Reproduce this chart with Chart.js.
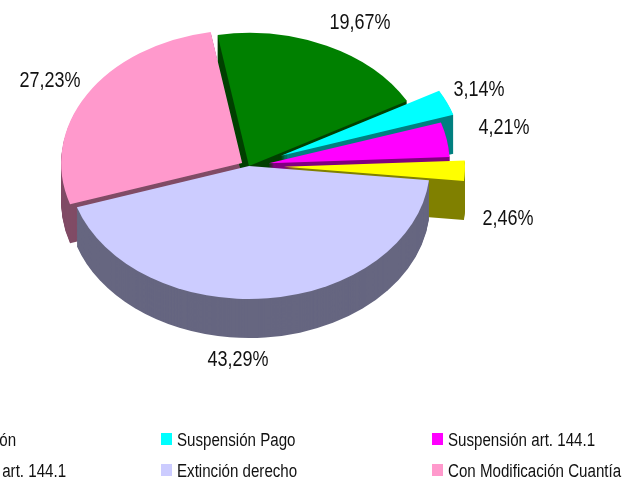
<!DOCTYPE html>
<html lang="es">
  <head>
    <meta charset="utf-8">
    <title>Tipos de resolución</title>
    <script src="https://cdn.jsdelivr.net/npm/chart.js@4"></script>
    <style>
      html, body { margin: 0; padding: 0; background: #fff; overflow: hidden; }
      #wrap { position: relative; width: 622px; height: 478px; overflow: hidden; }
      #pieGraph { position: absolute; left: 0; top: 0; }
      /* no narrow font here, so squeeze Liberation Sans instead */
      .key { position: absolute; font: 18px "Liberation Sans", sans-serif; color: #111; white-space: nowrap; line-height: 20px; transform: scaleX(0.84); }
      .swatch { position: absolute; width: 11px; height: 12px; }
    </style>
  </head>
  <body>
    <div id="wrap">
      <canvas id="pieGraph" width="622" height="478"></canvas>
    </div>
  <script>
  var categories = ["Sin Modificación", "Suspensión Pago", "Suspensión art. 144.1", "Extinción art. 144.1", "Extinción derecho", "Con Modificación Cuantía"];
  var values = [19.67, 3.14, 4.21, 2.46, 43.29, 27.23];
  var topColors = ["#008000", "#00ffff", "#ff00ff", "#ffff00", "#ccccff", "#ff99cc"];
  var sideColors = ["#004000", "#008080", "#800080", "#808000", "#666680", "#804c66"];
  // how far each slice is pulled out of the pie
  var explode = [0, 35, 20, 35, 0, 8];

  var squash = 0.735;
  var depth = 39;
  // label centres, same order as values
  var labelX = [360, 479, 504, 508, 238, 50];
  var labelY = [23, 90, 128, 219, 360, 81];

  var pie3d = {
    id: "pie3d",
    beforeDatasetsDraw: function(chart){
      var ctx = chart.ctx;
      var arcs = chart.getDatasetMeta(0).data;
      var cx = arcs[0].x, cy = arcs[0].y;
      // back slices first so the lavender one ends up in front
      var order = [5, 0, 1, 2, 3, 4];

      ctx.save();
      ctx.translate(cx, cy);
      ctx.scale(1, squash);
      ctx.translate(-cx, -cy);

      // side walls
      order.forEach(function(i){
        var a = arcs[i];
        var mid = (a.startAngle + a.endAngle) / 2;
        var ox = Math.cos(mid) * explode[i];
        var oy = Math.sin(mid) * explode[i];
        ctx.fillStyle = sideColors[i];
        for(var d = depth; d > 0; d--){
          var y = a.y + oy + d / squash;
          ctx.beginPath();
          ctx.moveTo(a.x + ox, y);
          ctx.arc(a.x + ox, y, a.outerRadius, a.startAngle, a.endAngle);
          ctx.closePath();
          ctx.fill();
        }
      });

      // top faces, the library's own arcs
      order.forEach(function(i){
        var a = arcs[i];
        var mid = (a.startAngle + a.endAngle) / 2;
        ctx.save();
        ctx.translate(Math.cos(mid) * explode[i], Math.sin(mid) * explode[i]);
        a.draw(ctx);
        ctx.restore();
      });
      ctx.restore();

      // percent labels
      ctx.fillStyle = "#111";
      ctx.font = '22.5px "Liberation Sans", sans-serif';
      ctx.textAlign = "center";
      ctx.textBaseline = "middle";
      values.forEach(function(v, i){
        ctx.save();
        ctx.translate(labelX[i], labelY[i]);
        ctx.scale(0.8, 1);
        ctx.fillText(v.toFixed(2).replace(".", ",") + "%", 0, 0);
        ctx.restore();
      });
      return false;
    }
  };

  new Chart(document.getElementById("pieGraph"), {
    type: "pie",
    data: {
      labels: categories,
      datasets: [{
        data: values,
        backgroundColor: topColors,
        borderWidth: 0,
        radius: 181,
        clip: false
      }]
    },
    options: {
      responsive: false,
      animation: false,
      rotation: -10,
      layout: { padding: { left: 0, top: 0, right: 124, bottom: 146 } },
      plugins: { legend: { display: false }, tooltip: { enabled: false } }
    },
    plugins: [pie3d]
  });

  // legend, three columns running off the left edge like the original
  var wrap = document.getElementById("wrap");
  var colX = [-110, 161, 432];
  var rowY = [433, 464];
  categories.forEach(function(name, i){
    var col = i % 3, row = Math.floor(i / 3);
    var sw = document.createElement("div");
    sw.className = "swatch";
    sw.style.left = colX[col] + "px";
    sw.style.top = rowY[row] + "px";
    sw.style.background = topColors[i];
    wrap.appendChild(sw);
    var key = document.createElement("div");
    key.className = "key";
    key.textContent = name;
    key.style.top = (rowY[row] - 3) + "px";
    if(col === 0){
      // only the tail of these two shows
      key.style.right = (622 - (row === 0 ? 16 : 66)) + "px";
      key.style.transformOrigin = "right center";
    } else {
      key.style.left = (colX[col] + 16) + "px";
      key.style.transformOrigin = "left center";
    }
    wrap.appendChild(key);
  });
  </script>
  </body>
</html>
